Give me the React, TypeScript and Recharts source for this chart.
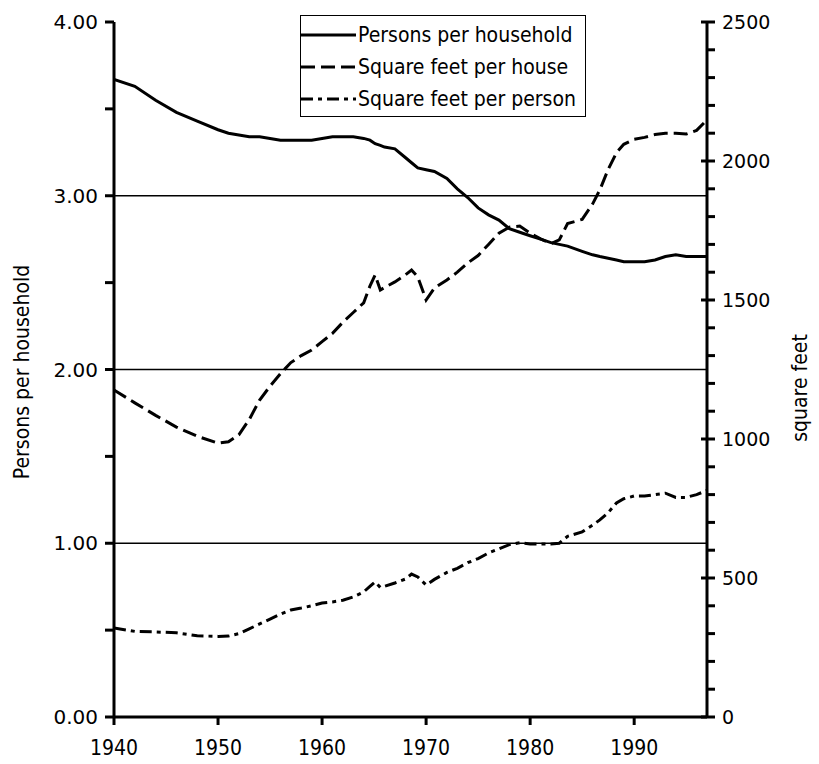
import { LineChart, Line, XAxis, YAxis, ReferenceLine, Legend } from 'recharts'

const years = [
  1940, 1942, 1944, 1946, 1948, 1950, 1951, 1952, 1953, 1954, 1955, 1956, 1957, 1958, 1959,
  1960, 1961, 1962, 1963, 1964, 1964.6, 1965.1, 1965.6, 1966, 1967, 1968, 1968.6, 1969.2, 1970,
  1970.8, 1972, 1973, 1974, 1975, 1976, 1977, 1978, 1979, 1980, 1981, 1982, 1982.8, 1983.6, 1985,
  1986, 1986.7, 1987.5, 1988.3, 1989, 1990, 1991, 1992, 1993, 1994, 1995, 1996, 1997,
]

const personsPerHousehold = [
  3.67, 3.63, 3.55, 3.48, 3.43, 3.38, 3.36, 3.35, 3.34, 3.34, 3.33, 3.32, 3.32, 3.32, 3.32,
  3.33, 3.34, 3.34, 3.34, 3.33, 3.32, 3.3, 3.29, 3.28, 3.27, 3.22, 3.19, 3.16, 3.15,
  3.14, 3.1, 3.04, 2.99, 2.93, 2.89, 2.86, 2.81, 2.79, 2.77, 2.75, 2.73, 2.72, 2.71, 2.68,
  2.66, 2.65, 2.64, 2.63, 2.62, 2.62, 2.62, 2.63, 2.65, 2.66, 2.65, 2.65, 2.65,
]

const sqftPerHouse = [
  1176, 1130, 1085, 1043, 1010, 985, 990, 1015, 1070, 1140, 1190, 1235, 1275, 1300, 1320,
  1350, 1380, 1420, 1455, 1490, 1550, 1590, 1536, 1545, 1565, 1590, 1608, 1583, 1500,
  1543, 1572, 1600, 1633, 1660, 1700, 1740, 1762, 1766, 1740, 1720, 1703, 1716, 1775, 1790,
  1845, 1896, 1970, 2030, 2060, 2078, 2085, 2095, 2100, 2100, 2097, 2110, 2148,
]

const sqftPerPerson = [
  320, 308, 306, 303, 292, 290, 291, 300, 317, 335, 352, 370, 385, 392, 400,
  410, 414, 420, 432, 450, 470, 486, 466, 470, 482, 496, 514, 504, 475,
  495, 520, 535, 555, 570, 590, 605, 620, 627, 622, 622, 622, 625, 650, 666,
  690, 709, 735, 770, 785, 795, 795, 800, 805, 790, 790, 800, 815,
]

const yearTicks = [1940, 1950, 1960, 1970, 1980, 1990]
const leftTicks = [0, 0.5, 1, 1.5, 2, 2.5, 3, 3.5, 4]
const rightTicks = Array.from({ length: 26 }, (_, i) => i * 100)
const gridLevels = [1, 2, 3]

const data = years.map((year, i) => ({
  year,
  persons: personsPerHousehold[i],
  house: sqftPerHouse[i],
  person: sqftPerPerson[i],
}))

const FONT = '"DejaVu Sans Condensed", "DejaVu Sans", sans-serif'
const WIDE = '"DejaVu Sans", sans-serif'

function LeftTick({ x, y, payload }: any) {
  const v = payload.value
  const major = Number.isInteger(v)
  return (
    <g>
      <line x1={x - 9} x2={x} y1={y} y2={y} stroke="#000" strokeWidth={3} />
      {major && (
        <text x={x - 16} y={y} dy="0.35em" textAnchor="end" fontSize={20} fontFamily={WIDE} fill="#000">
          {v.toFixed(2)}
        </text>
      )}
    </g>
  )
}

function RightTick({ x, y, payload }: any) {
  const v = payload.value
  const major = v % 500 === 0
  return (
    <g>
      <line x1={major ? x - 6 : x} x2={x + 8} y1={y} y2={y} stroke="#000" strokeWidth={3} />
      {major && (
        <text x={x + 15} y={y} dy="0.35em" textAnchor="start" fontSize={19} fontFamily={WIDE} fill="#000">
          {v}
        </text>
      )}
    </g>
  )
}

function BottomTick({ x, y, payload }: any) {
  return (
    <g>
      <line x1={x} x2={x} y1={y} y2={y + 8} stroke="#000" strokeWidth={3} />
      <text x={x} y={y + 31} dy="0.35em" textAnchor="middle" fontSize={21} fontFamily={FONT} fill="#000">
        {payload.value}
      </text>
    </g>
  )
}

const legendItems = [
  { label: 'Persons per household', dash: undefined },
  { label: 'Square feet per house', dash: '14 6' },
  { label: 'Square feet per person', dash: '12 5 4 5' },
]

function LegendBox() {
  return (
    <div
      style={{
        border: '1.5px solid #000',
        background: '#fff',
        width: 286,
        height: 102,
        boxSizing: 'border-box',
        paddingTop: 3,
        fontFamily: FONT,
        fontSize: 21,
        color: '#000',
      }}
    >
      {legendItems.map((it) => (
        <div key={it.label} style={{ display: 'flex', alignItems: 'center', height: 32 }}>
          <svg width={55} height={10} style={{ flex: 'none' }}>
            <line x1={0} x2={55} y1={5} y2={5} stroke="#000" strokeWidth={3} strokeDasharray={it.dash} />
          </svg>
          <span style={{ marginLeft: 2, whiteSpace: 'nowrap' }}>{it.label}</span>
        </div>
      ))}
    </div>
  )
}

export default function App() {
  return (
    <div style={{ position: 'absolute', left: 0, top: 0, background: '#fff' }}>
      <LineChart width={819} height={764} data={data} margin={{ top: 22, right: 0, bottom: 7, left: 0 }}>
        <XAxis
          dataKey="year"
          type="number"
          domain={[1940, 1997]}
          ticks={yearTicks}
          allowDataOverflow
          height={40}
          tickSize={0}
          tickMargin={0}
          tick={<BottomTick />}
          axisLine={{ stroke: '#000', strokeWidth: 3 }}
        />
        <YAxis
          yAxisId="left"
          orientation="left"
          domain={[0, 4]}
          ticks={leftTicks}
          width={114}
          tickSize={0}
          tickMargin={0}
          tick={<LeftTick />}
          axisLine={{ stroke: '#000', strokeWidth: 3 }}
          label={{
            content: () => (
              <text x={22} y={372} transform="rotate(-90 22 372)" textAnchor="middle" dy="0.35em" fontSize={21} fontFamily={FONT} fill="#000">
                Persons per household
              </text>
            ),
          }}
        />
        <YAxis
          yAxisId="right"
          orientation="right"
          domain={[0, 2500]}
          ticks={rightTicks}
          width={112}
          tickSize={0}
          tickMargin={0}
          tick={<RightTick />}
          axisLine={{ stroke: '#000', strokeWidth: 3 }}
          label={{
            content: () => (
              <text x={800} y={388} transform="rotate(-90 800 388)" textAnchor="middle" dy="0.35em" fontSize={21} fontFamily={FONT} fill="#000">
                square feet
              </text>
            ),
          }}
        />
        {gridLevels.map((g) => (
          <ReferenceLine key={g} yAxisId="left" y={g} stroke="#000" strokeWidth={1.5} />
        ))}
        <Line yAxisId="left" type="linear" dataKey="persons" stroke="#000" strokeWidth={3} dot={false} isAnimationActive={false} />
        <Line yAxisId="right" type="linear" dataKey="house" stroke="#000" strokeWidth={3} strokeDasharray="14 6" dot={false} isAnimationActive={false} />
        <Line yAxisId="right" type="linear" dataKey="person" stroke="#000" strokeWidth={3} strokeDasharray="12 5 4 5" dot={false} isAnimationActive={false} />
        <Legend
          layout="vertical"
          align="center"
          verticalAlign="middle"
          content={() => <LegendBox />}
          wrapperStyle={{ position: 'absolute', top: 15, left: 300, width: 286, height: 102 }}
        />
      </LineChart>
    </div>
  )
}
